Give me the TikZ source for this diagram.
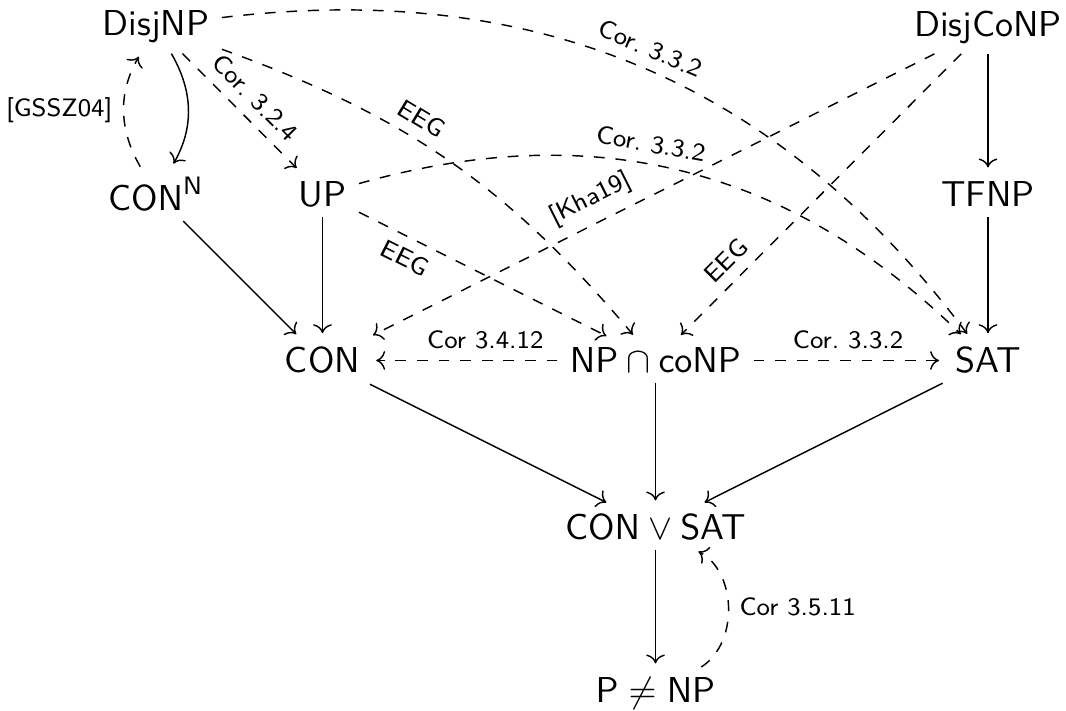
\documentclass[tikz,border=0pt]{standalone}
\usetikzlibrary{arrows.meta}
\begin{document}
\begin{tikzpicture}[x=0.2777pt,y=0.2777pt,
  every node/.style={font=\sffamily},
  obj/.style={inner xsep=3.3pt, inner ysep=2.7pt},
  arr/.style={-{Computer Modern Rightarrow}, line width=0.4pt, shorten >=1pt},
  dsh/.style={arr, dashed},
  lab/.style={font=\sffamily\scriptsize, inner sep=3pt}
]
\useasboundingbox (0,0) rectangle (1066,711);
% nodes
\node[obj] (disjnp)   at (156,684)   {DisjNP};
\node[obj] (disjconp) at (988,684)   {DisjCoNP};
\node[obj] (conn)     at (156,517)   {$\mathsf{CON}^{\mathsf{N}}$};
\node[obj] (up)       at (322.5,517) {UP};
\node[obj] (tfnp)     at (988,517)   {TFNP};
\node[obj] (con)      at (322.5,350.5) {CON};
\node[obj] (npconp)   at (655.5,350.5) {$\mathsf{NP}\cap\mathsf{coNP}$};
\node[obj] (sat)      at (988,350.5) {SAT};
\node[obj] (consat)   at (655.5,184) {$\mathsf{CON}\vee\mathsf{SAT}$};
\node[obj] (pnp)      at (655.5,17.5) {$\mathsf{P}\neq\mathsf{NP}$};
% connectors
\draw[arr] (disjnp) to[bend left=30] (conn);
\draw[dsh] (conn) to[bend left=30] node[lab, left, midway]{[GSSZ04]} (disjnp);
\draw[dsh] (disjnp) -- node[lab, sloped, above, midway]{Cor.\ 3.2.4} (up);
\draw[dsh] (disjnp) to[bend left=15] node[lab, sloped, above, pos=0.4]{EEG} (npconp);
\draw[dsh] (disjnp) to[bend left=30] node[lab, sloped, above, midway]{Cor.\ 3.3.2} (sat);
\draw[dsh] (up) to[bend left=30] node[lab, sloped, above, pos=0.44]{Cor.\ 3.3.2} (sat);
\draw[dsh] (up) -- node[lab, sloped, below, pos=0.22]{EEG} (npconp);
\draw[arr] (up) -- (con);
\draw[arr] (conn) -- (con);
\draw[arr] (disjconp) -- (tfnp);
\draw[arr] (tfnp) -- (sat);
\draw[dsh] (disjconp) -- node[lab, sloped, above, pos=0.59]{[Kha19]} (con);
\draw[dsh] (disjconp) -- node[lab, sloped, above, pos=0.78]{EEG} (npconp);
\draw[dsh] (npconp) -- node[lab, above, pos=0.39]{Cor 3.4.12} (con);
\draw[dsh] (npconp) -- node[lab, above, midway]{Cor.\ 3.3.2} (sat);
\draw[arr] (con) -- (consat);
\draw[arr] (npconp) -- (consat);
\draw[arr] (sat) -- (consat);
\draw[arr] (consat) -- (pnp);
\draw[dsh] (pnp) to[bend right=60] node[lab, right, midway]{Cor 3.5.11} (consat);
\end{tikzpicture}
\end{document}
